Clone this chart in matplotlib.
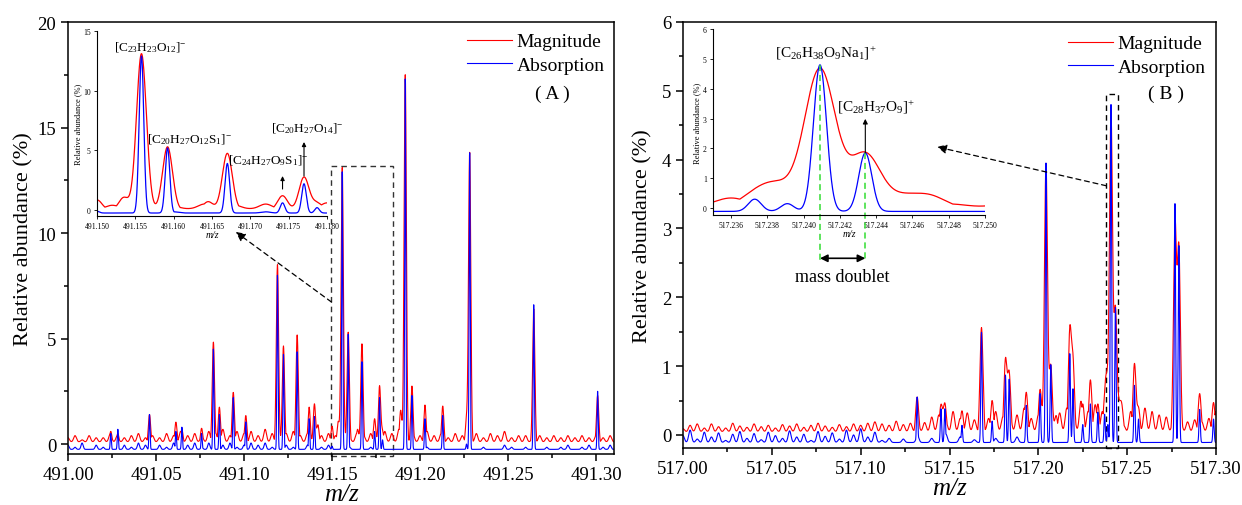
import numpy as np
import matplotlib
matplotlib.use('Agg')
import matplotlib.pyplot as plt
from matplotlib.patches import Rectangle
from matplotlib.ticker import MultipleLocator, FormatStrFormatter

plt.rcParams['font.family'] = ['Liberation Serif', 'DejaVu Serif']
plt.rcParams['mathtext.fontset'] = 'custom'
plt.rcParams['mathtext.rm'] = 'Liberation Serif'
plt.rcParams['mathtext.it'] = 'Liberation Serif:italic'

# ---- panel A, m/z 491 : peak position, magnitude top, absorption top
a_pos = [491.0243, 491.0283, 491.0463, 491.0613, 491.0647, 491.0759, 491.0826, 491.0860,
         491.0939, 491.1010, 491.1190, 491.1224, 491.1302, 491.1370, 491.1400, 491.1420,
         491.1500, 491.1535, 491.1558, 491.1592, 491.1645, 491.1670, 491.1742, 491.1770,
         491.1787, 491.1890, 491.1916, 491.1954, 491.2028, 491.2129, 491.2264, 491.2282,
         491.2646, 491.3009]
a_mag = [0.60, 0.50, 1.40, 1.04, 0.70, 0.75, 4.83, 1.75, 2.45, 1.35,
         8.50, 4.65, 5.17, 1.75, 1.90, 0.90, 0.85, 1.05, 13.1, 5.30,
         0.70, 4.75, 1.20, 2.75, 0.60, 1.60, 17.5, 2.75, 1.85, 1.80,
         1.10, 13.8, 6.40, 2.30]
a_abs = [0.50, 0.70, 1.40, 0.60, 0.80, 0.50, 4.50, 1.40, 2.20, 1.05,
         8.00, 4.25, 4.37, 1.20, 1.30, -0.25, -0.10, -0.25, 12.9, 5.20,
         -0.25, 3.90, 0.60, 2.20, 0.20, -0.25, 17.3, 2.30, 1.20, 1.35,
         0.00, 13.8, 6.60, 2.50]
# baseline noise, one value every 0.004 from 491.000 (tenths of %)
a_mag_noise = [2, 3, 1, 3, 2, 2, 4, 3, 2, 3,
               4, 2, 3, 2, 4, 3, 5, 3, 4, 3,
               5, 4, 6, 3, 5, 4, 5, 3, 6, 4,
               5, 4, 5, 3, 4, 6, 3, 4, 3, 3,
               2, 4, 3, 4, 3, 5, 4, 6, 3, 4,
               3, 5, 3, 4, 2, 4, 3, 3, 4, 2,
               4, 3, 5, 2, 3, 3, 2, 3, 2, 3,
               2, 3, 2, 3, 2, 3, 2, 3]
a_abs_noise = [2, 1, 3, 0, 2, 1, 0, 0, 2, 1,
               3, 2, 0, 2, 1, 3, 0, 2, 3, 1,
               3, 0, 2, 3, 1, 2, 3, 2, 3, 1,
               0, 2, 1, 0, 2, 0, 1, 2, 0, 0,
               1, 0, 0, 1, 0, 0, 0, 0, 0, 0,
               0, 1, 0, 0, 0, 0, 0, 0, 0, 1,
               0, 0, 2, 1, 0, 1, 0, 0, 1, 0,
               1, 2, 0, 1, 2, 0, 1, 2]

# ---- panel B, m/z 517
b_pos = [517.1318, 517.1452, 517.1474, 517.1570, 517.1680, 517.1740, 517.1815, 517.1836,
         517.1932, 517.2010, 517.2043, 517.2070, 517.2100, 517.2177, 517.2195, 517.2250,
         517.2293, 517.2335, 517.2373, 517.2385, 517.2391, 517.2409, 517.2434, 517.2455,
         517.2470, 517.2541, 517.2564, 517.2769, 517.2791, 517.2908, 517.2986]
b_mag = [0.55, 0.43, 0.45, 0.35, 1.56, 0.50, 1.08, 0.88, 0.62, 0.66,
         3.94, 1.00, 0.28, 1.47, 1.02, 0.45, 0.80, 0.45, 0.42, 0.60,
         0.10, 4.65, 1.80, 0.35, 0.38, 1.03, 0.38, 3.05, 2.68, 0.60,
         0.47]
b_abs = [0.55, 0.38, 0.38, 0.14, 1.49, 0.20, 0.87, 0.81, 0.43, 0.60,
         3.95, 1.02, -0.11, 1.18, 0.67, 0.15, 0.45, 0.33, 0.30, -0.11,
         0.15, 4.80, 1.85, -0.11, -0.11, 0.72, 0.23, 3.36, 2.75, 0.37,
         0.23]
# baseline noise, one value every 0.004 from 517.000 (hundredths of %)
b_mag_noise = [5, 10, 12, 6, 12, 8, 6, 13, 9, 7,
               12, 8, 10, 6, 11, 9, 12, 7, 10, 13,
               9, 7, 11, 8, 12, 10, 13, 15, 12, 10,
               16, 11, 13, 18, 14, 22, 25, 15, 30, 20,
               28, 18, 25, 20, 30, 22, 28, 25, 35, 20,
               25, 30, 22, 28, 35, 25, 45, 30, 40, 30,
               10, 15, 10, 30, 28, 35, 30, 25, 22, 18,
               20, 15, 18, 15, 20, 30]
b_abs_noise = [10, 18, 5, 15, 8, 14, 3, 12, 16, 6,
               13, 4, 15, 10, 6, 17, 8, 12, 3, 16,
               9, 14, 5, 18, 11, 20, 8, 15, 3, 6,
               0, 5, 0, 10, 0, 6, 0, 12, 0, 8,
               0, 4, 0, 0, 6, 0, 0, 8, 0, 0,
               0, 0, 0, 0, 0, 0, 0, 0, 0, 0,
               0, 0, 0, 0, 0, 0, 0, 0, 0, 0,
               0, 0, 0, 0, 0, 0]


def peaks(x, pos, top, sig, base=0.0):
    y = np.zeros_like(x) + base
    for p, h in zip(pos, top):
        y += (h - base) * np.exp(-0.5 * ((x - p) / sig) ** 2)
    return y


def noise(x, start, vals, scale, sig, base=0.0):
    pos = start + 0.004 * np.arange(len(vals))
    return base + peaks(x, pos, np.array(vals) * scale, sig)


def spectrum_a(x):
    mag = np.maximum(peaks(x, a_pos, a_mag, 0.00065),
                     noise(x, 491.0, a_mag_noise, 0.1, 0.0008, base=0.1))
    ab = np.maximum(peaks(x, a_pos, a_abs, 0.0003, base=-0.25),
                    noise(x, 491.0, a_abs_noise, 0.1, 0.0006, base=-0.25))
    return mag, ab


def spectrum_b(x):
    mag = np.maximum(peaks(x, b_pos, b_mag, 0.00085),
                     noise(x, 517.0, b_mag_noise, 0.01, 0.0009, base=0.04))
    ab = np.maximum(peaks(x, b_pos, b_abs, 0.00036, base=-0.11),
                    noise(x, 517.0, b_abs_noise, 0.01, 0.0008, base=-0.11))
    return mag, ab


fig = plt.figure(figsize=(12.42, 5.06), dpi=100)
axA = fig.add_axes([0.05475, 0.10079, 0.43961, 0.85375])
axB = fig.add_axes([0.54992, 0.11265, 0.42915, 0.84190])
inA = fig.add_axes([0.0781, 0.57115, 0.18519, 0.36561])
inB = fig.add_axes([0.57407, 0.57312, 0.21900, 0.36759])

xa = np.linspace(491.0, 491.3102, 6205)
magA, absA = spectrum_a(xa)
xb = np.linspace(517.0, 517.3, 6001)
magB, absB = spectrum_b(xb)

for ax, x, m, a in [(axA, xa, magA, absA), (axB, xb, magB, absB)]:
    ax.plot(x, m, color='#ff0000', lw=0.8, label='Magnitude')
    ax.plot(x, a, color='#0000ff', lw=0.8, label='Absorption')
    for s in ax.spines.values():
        s.set_linewidth(1.1)
    ax.tick_params(which='major', direction='out', length=5, width=1.1, labelsize=13.5,
                   top=False, right=False)
    ax.tick_params(which='minor', direction='out', length=3, width=1.1, top=False, right=False)
    ax.xaxis.set_major_locator(MultipleLocator(0.05))
    ax.xaxis.set_minor_locator(MultipleLocator(0.025))
    ax.xaxis.set_major_formatter(FormatStrFormatter('%.2f'))
    ax.set_xlabel('m/z', fontsize=18, style='italic', labelpad=0)

axA.set_ylabel('Relative abundance (%)', fontsize=16, labelpad=3)
axB.set_ylabel('Relative abundance (%)', fontsize=16, labelpad=7)
axA.set_xlim(491.0, 491.3102)
axA.set_ylim(-0.47, 20)
axA.yaxis.set_major_locator(MultipleLocator(5))
axA.yaxis.set_minor_locator(MultipleLocator(2.5))
axB.set_xlim(517.0, 517.3)
axB.set_ylim(-0.19, 6)
axB.yaxis.set_major_locator(MultipleLocator(1))
axB.yaxis.set_minor_locator(MultipleLocator(0.5))

axA.legend(frameon=False, fontsize=14, loc='upper left', bbox_to_anchor=(0.731, 0.975),
           borderpad=0, borderaxespad=0, handlelength=2.3, handletextpad=0.25, labelspacing=0.3)
axB.legend(frameon=False, fontsize=14, loc='upper left', bbox_to_anchor=(0.722, 0.970),
           borderpad=0, borderaxespad=0, handlelength=2.3, handletextpad=0.25, labelspacing=0.3)
axA.text(0.888, 0.836, '( A )', transform=axA.transAxes, fontsize=14, ha='center', va='center')
axB.text(0.906, 0.833, '( B )', transform=axB.transAxes, fontsize=14, ha='center', va='center')

# insets
xia = np.linspace(491.150, 491.180, 3001)
mia, aia = spectrum_a(xia)
xib = np.linspace(517.235, 517.250, 3001)
mib, aib = spectrum_b(xib)

for ax, x, m, a in [(inA, xia, mia, aia), (inB, xib, mib, aib)]:
    ax.patch.set_alpha(0)
    ax.plot(x, m, color='#ff0000', lw=0.9)
    ax.plot(x, a, color='#0000ff', lw=0.9)
    ax.spines['top'].set_visible(False)
    ax.spines['right'].set_visible(False)
    for s in ['left', 'bottom']:
        ax.spines[s].set_linewidth(0.8)
    ax.tick_params(direction='out', length=2.5, width=0.6, labelsize=5.5, pad=2)
    ax.set_ylabel('Relative abundance (%)', fontsize=6, labelpad=1)
    ax.set_xlabel('m/z', fontsize=7, style='italic', labelpad=0)

inA.set_xlim(491.150, 491.180)
inA.set_ylim(-0.5, 15)
inA.xaxis.set_major_locator(MultipleLocator(0.005))
inA.xaxis.set_major_formatter(FormatStrFormatter('%.3f'))
inA.yaxis.set_major_locator(MultipleLocator(5))
inB.set_xlim(517.235, 517.250)
inB.set_ylim(-0.23, 6)
inB.set_xticks(np.arange(517.236, 517.2505, 0.002))
inB.xaxis.set_major_formatter(FormatStrFormatter('%.3f'))
inB.yaxis.set_major_locator(MultipleLocator(1))

# inset A labels
inA.text(491.1569, 13.7, r'[C$_{23}$H$_{23}$O$_{12}$]$^{-}$', ha='center', va='center', fontsize=9.5)
inA.text(491.1621, 5.95, r'[C$_{20}$H$_{27}$O$_{12}$S$_{1}$]$^{-}$', ha='center', va='center', fontsize=9.5)
inA.text(491.1723, 4.2, r'[C$_{24}$H$_{27}$O$_{9}$S$_{1}$]$^{-}$', ha='center', va='center', fontsize=9.5)
inA.text(491.1775, 6.9, r'[C$_{20}$H$_{27}$O$_{14}$]$^{-}$', ha='center', va='center', fontsize=9.5)
inA.annotate('', xy=(a_pos[22], 2.85), xytext=(a_pos[22], 1.76),
             arrowprops=dict(arrowstyle='-|>', color='black', lw=0.8, mutation_scale=6,
                             shrinkA=0, shrinkB=0))
inA.annotate('', xy=(a_pos[23], 5.7), xytext=(a_pos[23], 2.85),
             arrowprops=dict(arrowstyle='-|>', color='black', lw=0.8, mutation_scale=6,
                             shrinkA=0, shrinkB=0))

# inset B labels
inB.text(517.24123, 5.23, r'[C$_{26}$H$_{38}$O$_{9}$Na$_{1}$]$^{+}$', ha='center', va='center', fontsize=11)
inB.text(517.24397, 3.42, r'[C$_{28}$H$_{37}$O$_{9}$]$^{+}$', ha='center', va='center', fontsize=11)
inB.annotate('', xy=(b_pos[22], 2.99), xytext=(b_pos[22], b_abs[22]),
             arrowprops=dict(arrowstyle='-|>', color='black', lw=0.8, mutation_scale=7,
                             shrinkA=0, shrinkB=0))
for i in [21, 22]:
    inB.plot([b_pos[i], b_pos[i]], [b_abs[i], -1.81], color='#33dd33', ls=(0, (4, 2.5)),
             lw=1.1, clip_on=False)
inB.annotate('', xy=(b_pos[21], -1.68), xytext=(b_pos[22], -1.68), annotation_clip=False,
             arrowprops=dict(arrowstyle='<|-|>', color='black', lw=1.2, mutation_scale=11,
                             shrinkA=0, shrinkB=0))
inB.text(517.24211, -2.28, 'mass doublet', ha='center', va='center', fontsize=13, clip_on=False)

# zoom boxes and arrows
axA.add_patch(Rectangle((491.1497, -0.55), 0.035, 13.75, fill=False, ec='#333333',
                        ls=(0, (4, 3)), lw=1.0, clip_on=False))
axA.annotate('', xy=(491.1681, -1.84), xycoords=inA.transData,
             xytext=(491.1497, 6.73), textcoords=axA.transData,
             arrowprops=dict(arrowstyle='-|>', ls=(0, (4, 3)), color='black', lw=0.9,
                             mutation_scale=14, shrinkA=0, shrinkB=0))
axB.add_patch(Rectangle((517.2383, -0.19), 0.0064, 5.15, fill=False, ec='black',
                        ls=(0, (4, 3)), lw=1.0, clip_on=False))
axB.annotate('', xy=(517.24736, 2.05), xycoords=inB.transData,
             xytext=(517.2383, 3.62), textcoords=axB.transData,
             arrowprops=dict(arrowstyle='-|>', ls=(0, (4, 3)), color='black', lw=0.9,
                             mutation_scale=14, shrinkA=0, shrinkB=0))

fig.savefig('out.png', dpi=100)
